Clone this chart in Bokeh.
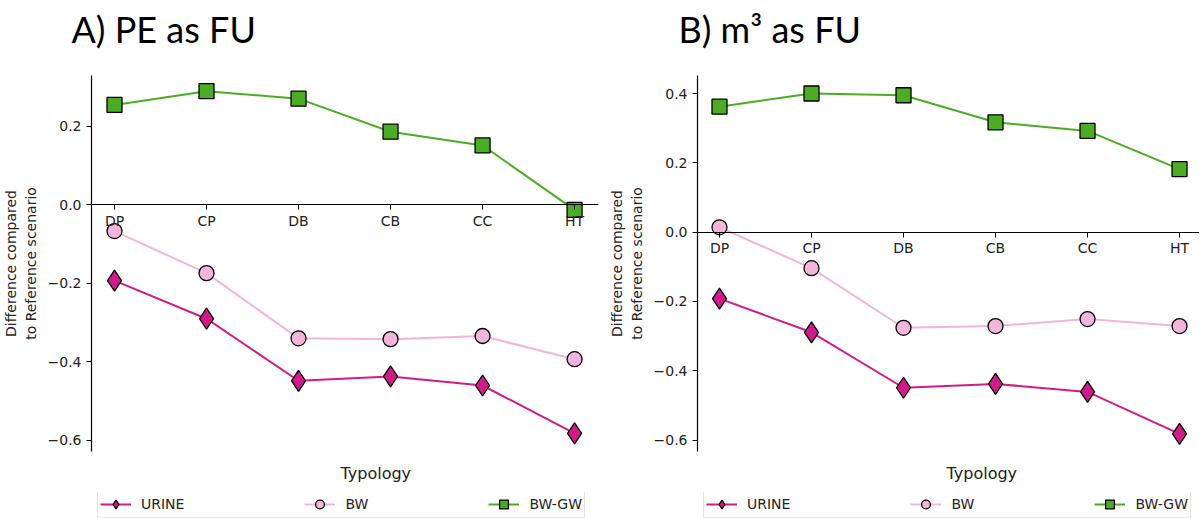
from bokeh.plotting import figure
from bokeh.models import Range1d, LinearAxis, FixedTicker, Title, Legend, LegendItem
from bokeh.layouts import row, column
from bokeh.embed import file_html
from bokeh.resources import INLINE

# ---------------- data ----------------
categories = ["DP", "CP", "DB", "CB", "CC", "HT"]
series_names = ["URINE", "BW", "BW-GW"]

urine_a = [-0.193, -0.290, -0.448, -0.437, -0.460, -0.582]
bw_a = [-0.067, -0.174, -0.340, -0.342, -0.334, -0.393]
bwgw_a = [0.254, 0.289, 0.270, 0.186, 0.151, -0.013]

urine_b = [-0.192, -0.289, -0.449, -0.438, -0.461, -0.582]
bw_b = [0.014, -0.104, -0.276, -0.271, -0.251, -0.271]
bwgw_b = [0.362, 0.400, 0.395, 0.317, 0.292, 0.182]

yticks_a = [-0.6, -0.4, -0.2, 0.0, 0.2]
yticks_b = [-0.6, -0.4, -0.2, 0.0, 0.2, 0.4]

title_a = "A)  PE as FU"
title_b = "B)  m\u00b3 as FU"
x_title = "Typology"
y_title = "Difference compared\nto Reference scenario"

colors = ["#d01c8b", "#f1b6da", "#4dac26"]
markers = ["diamond", "circle", "square"]
msizes = [21, 15, 15]

FONT = "DejaVu Sans"


def tick_text(v):
    return ("%.1f" % v).replace("-", "\u2212")


def make_panel(title, values, yticks, yr, xr, left, right, fw, title_dx):
    p = figure(frame_width=fw, frame_height=376,
               x_range=Range1d(*xr), y_range=Range1d(*yr),
               x_axis_location=None, y_axis_location="left",
               toolbar_location=None, output_backend="svg",
               min_border_left=left, min_border_right=right,
               min_border_top=75, min_border_bottom=41)
    p.xgrid.visible = False
    p.ygrid.visible = False
    p.outline_line_color = None
    p.background_fill_color = "white"
    p.border_fill_color = "white"

    ya = p.yaxis[0]
    ya.ticker = FixedTicker(ticks=yticks)
    ya.major_label_overrides = {t: tick_text(t) for t in yticks}
    ya.minor_tick_line_color = None
    ya.major_tick_in = 0
    ya.major_tick_out = 5
    ya.major_label_standoff = 5
    ya.axis_line_width = 1.2
    ya.axis_line_color = "black"
    ya.major_tick_line_color = "black"
    ya.major_label_text_font = FONT
    ya.major_label_text_font_size = "14px"
    ya.major_label_text_color = "#222222"
    ya.axis_label = y_title
    ya.axis_label_text_font = FONT
    ya.axis_label_text_font_size = "14px"
    ya.axis_label_text_font_style = "normal"
    ya.axis_label_text_color = "#222222"
    ya.axis_label_standoff = 6

    xs = list(range(len(categories)))
    xa = LinearAxis(fixed_location=0,
                    ticker=FixedTicker(ticks=xs),
                    major_label_overrides={i: c for i, c in zip(xs, categories)})
    xa.minor_tick_line_color = None
    xa.major_tick_in = 0
    xa.major_tick_out = 5
    xa.major_label_standoff = 3
    xa.axis_line_width = 1.2
    xa.axis_line_color = "black"
    xa.major_tick_line_color = "black"
    xa.major_label_text_font = FONT
    xa.major_label_text_font_size = "14px"
    xa.major_label_text_color = "#222222"
    p.add_layout(xa, "below")

    for vals, col, mk, ms in zip(values, colors, markers, msizes):
        p.line(xs, vals, line_color=col, line_width=2)
        p.scatter(xs, vals, marker=mk, size=ms, fill_color=col,
                  line_color="black", line_width=1.3)

    # top: blank spacer next to the frame, then the panel title
    p.add_layout(Title(text="\u00a0", text_font=FONT, text_font_size="16px",
                       standoff=4), "above")
    p.add_layout(Title(text=title, align="left", offset=title_dx,
                       text_font="Lato", text_font_size="36px",
                       text_font_style="normal", text_color="black",
                       standoff=0, vertical_align="bottom"), "above")

    # bottom: x title
    p.add_layout(Title(text=x_title, align="left", offset=249,
                       text_font=FONT, text_font_size="16px",
                       text_font_style="normal", text_color="#222222",
                       standoff=20, vertical_align="bottom"), "below")
    return p


def make_legend(width, box_x, values):
    # the legend's renderers carry the series but sit outside this strip's ranges
    lf = figure(width=width, height=26, x_range=Range1d(-20, -19), y_range=Range1d(-20, -19),
                x_axis_location=None, y_axis_location=None,
                toolbar_location=None, output_backend="svg", min_border=0)
    lf.grid.visible = False
    lf.outline_line_color = None
    xs = list(range(len(categories)))
    items = []
    for name, vals, col, mk, ms in zip(series_names, values, colors, markers, msizes):
        lr = lf.line(xs, vals, line_color=col, line_width=2)
        sr = lf.scatter(xs, vals, marker=mk, size=ms, fill_color=col,
                        line_color="black", line_width=1.3)
        items.append(LegendItem(label=name, renderers=[lr, sr]))
    legend = Legend(items=items, location=(box_x, 0), orientation="horizontal",
                    spacing=120, padding=2, margin=0,
                    glyph_width=31, glyph_height=22, label_height=22,
                    label_standoff=10,
                    label_text_font=FONT, label_text_font_size="14px",
                    label_text_color="#222222",
                    border_line_color="#cccccc", border_line_width=1,
                    background_fill_color="white", background_fill_alpha=1)
    lf.add_layout(legend)
    return lf


pa = make_panel(title_a, [urine_a, bw_a, bwgw_a], yticks_a,
                (-0.628, 0.329), (-0.25, 5.26), 90, 3, 507, -20)
pb = make_panel(title_b, [urine_b, bw_b, bwgw_b], yticks_b,
                (-0.633, 0.452), (-0.239, 5.217), 96, 0, 502, -19)

la = make_legend(600, 97, [urine_a, bw_a, bwgw_a])
lb = make_legend(598, 103, [urine_b, bw_b, bwgw_b])

layout = column(row(pa, pb), row(la, lb))
open("out.html", "w").write(file_html(layout, INLINE))
